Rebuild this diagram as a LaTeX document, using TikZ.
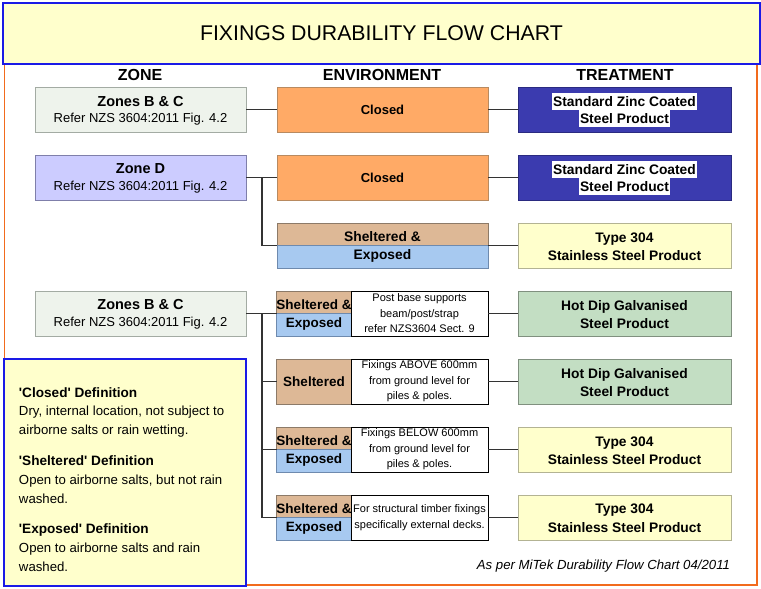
\documentclass[tikz,border=0pt]{standalone}
\usepackage{fontspec}
\setmainfont{Liberation Sans}[Ligatures=TeXOff]
\definecolor{titlefill}{HTML}{FFFFCC}
\definecolor{titleblue}{HTML}{1A1AE6}
\definecolor{frameorange}{HTML}{F26B1D}
\definecolor{zonefill}{HTML}{EEF3EC}
\definecolor{zoneline}{HTML}{A3ABA3}
\definecolor{zonedfill}{HTML}{CCCCFF}
\definecolor{zonedline}{HTML}{7F7FAA}
\definecolor{closedfill}{HTML}{FFAA66}
\definecolor{closedline}{HTML}{B88A60}
\definecolor{tanfill}{HTML}{DDB896}
\definecolor{tanline}{HTML}{8C7A68}
\definecolor{bluefill}{HTML}{A7C9F0}
\definecolor{blueline}{HTML}{6E8AAE}
\definecolor{darkbluefill}{HTML}{3B3BAF}
\definecolor{darkblueline}{HTML}{2A2A80}
\definecolor{yelfill}{HTML}{FFFFCC}
\definecolor{yelline}{HTML}{B3B393}
\definecolor{greenfill}{HTML}{C3DEC3}
\definecolor{greenline}{HTML}{80907F}
\definecolor{conn}{HTML}{333333}
\newcommand\mytxt{\fontsize{13}{18}\selectfont}
\newcommand\mybig{\fontsize{13.8}{18.5}\selectfont}
\newcommand\myzhead{\fontsize{14.5}{18}\selectfont}
\newcommand\mysmall{\fontsize{11}{15.5}\selectfont}
\newcommand\mydef{\fontsize{13.2}{19}\selectfont}
\begin{document}
\begin{tikzpicture}[x=1pt,y=-1pt,
  every node/.style={inner sep=0pt, outer sep=0pt},
  zonebox/.style={draw=zoneline, fill=zonefill, line width=0.9pt, minimum width=211, minimum height=45},
  zonedbox/.style={zonebox, draw=zonedline, fill=zonedfill},
  envbox/.style={draw=closedline, fill=closedfill, line width=0.9pt, minimum width=211, minimum height=45, align=center, font=\mytxt\bfseries},
  tanbox/.style={draw=tanline, fill=tanfill, line width=0.9pt, align=center, font=\fontsize{13.5}{18}\selectfont\bfseries},
  bluebox/.style={draw=blueline, fill=bluefill, line width=0.9pt, align=center, font=\fontsize{13.5}{18}\selectfont\bfseries},
  envtext/.style={font=\fontsize{13.5}{18}\selectfont\bfseries},
  bigenvtext/.style={font=\mybig\bfseries},
  zhead/.style={font=\myzhead\bfseries},
  zsub/.style={font=\mytxt},
  descbox/.style={draw=black, fill=white, line width=0.9pt, minimum width=137, minimum height=45, align=center, font=\mysmall},
  treatbox/.style={line width=0.9pt, minimum width=213, minimum height=45},
  treattext/.style={align=center, font=\mybig\bfseries},
  darkbox/.style={treatbox, draw=darkblueline, fill=darkbluefill},
  yelbox/.style={treatbox, draw=yelline, fill=yelfill},
  greenbox/.style={treatbox, draw=greenline, fill=greenfill},
  hilite/.style={fill=white, inner xsep=1pt, minimum height=17, font=\mybig\bfseries},
  header/.style={font=\fontsize{16}{18}\selectfont\bfseries},
  defline/.style={anchor=base west, font=\mydef},
  defhead/.style={anchor=base west, font=\fontsize{13.6}{19}\selectfont\bfseries},
  link/.style={draw=conn, line width=1.1pt}
]
\useasboundingbox (0,0) rectangle (761,589);
\fill[white] (0,0) rectangle (761,589);
% outer frame
\draw[frameorange, line width=1.6pt] (4.5,64) rectangle (757,585);
% title
\node[draw=titleblue, fill=titlefill, line width=1.6pt, minimum width=757, minimum height=61, font=\fontsize{21.3}{24}\selectfont] (title) at (381.5,33.5) {FIXINGS DURABILITY FLOW CHART};
% headers
\node[header] (hzone) at (140,75) {ZONE};
\node[header] (henv) at (382,75) {ENVIRONMENT};
\node[header] (htreat) at (625,75) {TREATMENT};

% zones
\node[zonebox] (z1) at (140.5,109.5) {};
\node[zhead] (z1a) at (140.5,101.5) {Zones B \& C};
\node[zsub] (z1b) at (140.5,119.5) {Refer NZS 3604:2011 Fig. 4.2};
\node[zonedbox] (z2) at (140.5,177.5) {};
\node[zhead] (z2a) at (140.5,169) {Zone D};
\node[zsub] (z2b) at (140.5,187) {Refer NZS 3604:2011 Fig. 4.2};
\node[zonebox] (z3) at (140.5,313.5) {};
\node[zhead] (z3a) at (140.5,305) {Zones B \& C};
\node[zsub] (z3b) at (140.5,323.5) {Refer NZS 3604:2011 Fig. 4.2};

% environments upper
\node[envbox] (e1) at (382.5,109.5) {Closed};
\node[envbox] (e2) at (382.5,177.5) {Closed};
\node[tanbox, minimum width=211, minimum height=22.5] (e3t) at (382.5,234.25) {};
\node[bluebox, minimum width=211, minimum height=22.5] (e3b) at (382.5,256.75) {};
\node[bigenvtext] (e3tt) at (382.5,237) {Sheltered \&};
\node[bigenvtext] (e3bt) at (382.5,256) {Exposed};

% environments lower
% row 4
\node[tanbox, minimum width=75, minimum height=22.5] (e4t) at (314,302.25) {};
\node[bluebox, minimum width=75, minimum height=22.5] (e4b) at (314,324.75) {};
\node[envtext] (e4tt) at (314,305) {Sheltered \&};
\node[envtext] (e4bt) at (314,324) {Exposed};
\node[descbox] (d4) at (419.5,313.5) {Post base supports\\beam/post/strap\\refer NZS3604 Sect. 9};
% row 5
\node[tanbox, minimum width=75, minimum height=45] (e5) at (314,381.5) {Sheltered};
\node[descbox] (d5) at (419.5,381.5) {Fixings ABOVE 600mm\\from ground level for\\piles \& poles.};
% row 6
\node[tanbox, minimum width=75, minimum height=22.5] (e6t) at (314,438.25) {};
\node[bluebox, minimum width=75, minimum height=22.5] (e6b) at (314,460.75) {};
\node[envtext] (e6tt) at (314,441) {Sheltered \&};
\node[envtext] (e6bt) at (314,460) {Exposed};
\node[descbox] (d6) at (419.5,449.5) {Fixings BELOW 600mm\\from ground level for\\piles \& poles.};
% row 7
\node[tanbox, minimum width=75, minimum height=22.5] (e7t) at (314,506.25) {};
\node[bluebox, minimum width=75, minimum height=22.5] (e7b) at (314,528.75) {};
\node[envtext] (e7tt) at (314,509) {Sheltered \&};
\node[envtext] (e7bt) at (314,528) {Exposed};
\node[descbox] (d7) at (419.5,517.5) {For structural timber fixings\\specifically external decks.};

% treatments
\node[darkbox] (t1) at (624.5,109.5) {};
\node[hilite] (t1a) at (624.5,101.5) {Standard Zinc Coated};
\node[hilite] (t1b) at (624.5,118.5) {Steel Product};
\node[darkbox] (t2) at (624.5,177.5) {};
\node[hilite] (t2a) at (624.5,169.5) {Standard Zinc Coated};
\node[hilite] (t2b) at (624.5,186.5) {Steel Product};
\node[yelbox] (t3) at (624.5,245.5) {};
\node[treattext] (t3x) at (624.5,246.5) {Type 304\\Stainless Steel Product};
\node[greenbox] (t4) at (624.5,313.5) {};
\node[treattext] (t4x) at (624.5,314.5) {Hot Dip Galvanised\\Steel Product};
\node[greenbox] (t5) at (624.5,381.5) {};
\node[treattext] (t5x) at (624.5,382.5) {Hot Dip Galvanised\\Steel Product};
\node[yelbox] (t6) at (624.5,449.5) {};
\node[treattext] (t6x) at (624.5,450.5) {Type 304\\Stainless Steel Product};
\node[yelbox] (t7) at (624.5,517.5) {};
\node[treattext] (t7x) at (624.5,518) {Type 304\\Stainless Steel Product};

% connectors
\draw[link] (z1.east) -- (e1.west);
\draw[link] (e1.east) -- (t1.west);
\draw[link] (z2.east) -- (e2.west);
\coordinate (b2) at (262,177.5);
\draw[link] (b2) |- (e3t.south west);
\draw[link] (e2.east) -- (t2.west);
\draw[link] (e3t.south east) -- (e3t.south east -| t3.west);
\coordinate (b3) at (262,313.5);
\coordinate (b3end) at (262,517.5);
\draw[link] (z3.east) -- (e4t.south west);
\draw[link] (b3) -- (b3end);
\draw[link] (b3end) -- (e7t.south west);
\draw[link] (b3 |- e5.west) -- (e5.west);
\draw[link] (b3 |- e6t.south west) -- (e6t.south west);
\draw[link] (d4.east) -- (t4.west);
\draw[link] (d5.east) -- (t5.west);
\draw[link] (d6.east) -- (t6.west);
\draw[link] (d7.east) -- (t7.west);

% definitions box
\node[draw=titleblue, fill=titlefill, line width=1.6pt, minimum width=242, minimum height=227] (defs) at (125,472.5) {};
\node[defhead] (dl1) at (19,397) {'Closed' Definition};
\node[defline] (dl2) at (19,415.5) {Dry, internal location, not subject to};
\node[defline] (dl3) at (19,434.5) {airborne salts or rain wetting.};
\node[defhead] (dl4) at (19,465.5) {'Sheltered' Definition};
\node[defline] (dl5) at (19,484.5) {Open to airborne salts, but not rain};
\node[defline] (dl6) at (19,503) {washed.};
\node[defhead] (dl7) at (19,533.5) {'Exposed' Definition};
\node[defline] (dl8) at (19,552.5) {Open to airborne salts and rain};
\node[defline] (dl9) at (19,571.5) {washed.};

% footer
\node[anchor=base east, font=\fontsize{13.2}{15}\selectfont\itshape] (foot) at (730,569.5) {As per MiTek Durability Flow Chart 04/2011};
\end{tikzpicture}
\end{document}
